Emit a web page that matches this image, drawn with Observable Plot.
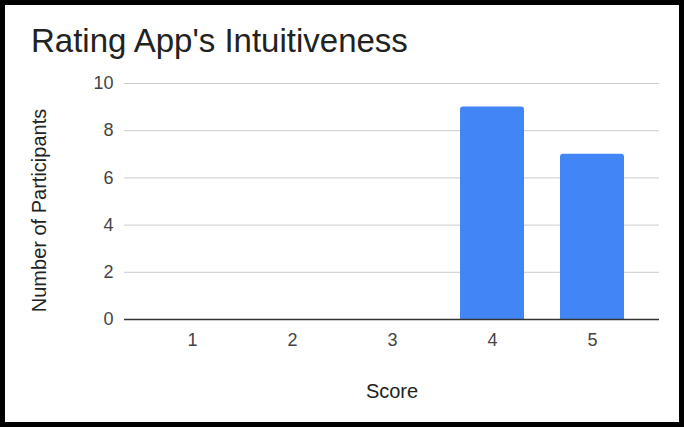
<!DOCTYPE html>
<html>
<head>
<meta charset="utf-8">
<script src="https://cdn.jsdelivr.net/npm/d3@7"></script>
<script src="https://cdn.jsdelivr.net/npm/@observablehq/plot@0.6"></script>
<style>
  html, body { margin: 0; padding: 0; background: #fff; }
  #chart {
    position: relative;
    width: 684px;
    height: 427px;
    box-sizing: border-box;
    border: 5px solid #000;
    background: #fff;
    overflow: hidden;
  }
  #chart svg { position: absolute; left: 0; top: 0; }
  #title {
    position: absolute;
    left: 26px;
    top: 19px;
    margin: 0;
    font-family: "Liberation Sans", Arial, sans-serif;
    font-size: 33px;
    font-weight: normal;
    line-height: 1;
    color: #222;
    white-space: nowrap;
    z-index: 1;
  }
</style>
</head>
<body>
<div id="chart">
  <h2 id="title">Rating App's Intuitiveness</h2>
</div>
<script>
// Survey results: how many participants gave each score
const scores = ["1", "2", "3", "4", "5"];
const participants = [0, 0, 0, 9, 7];
const yTicks = [0, 2, 4, 6, 8, 10];

const data = scores.map((s, i) => ({score: s, count: participants[i]}));

const font = "'Liberation Sans', Arial, sans-serif";

const chart = Plot.plot({
  width: 674,
  height: 417,
  marginLeft: 119,
  marginRight: 20,
  marginTop: 78,
  marginBottom: 103,
  style: {fontFamily: font, fontSize: "18px", color: "#444", background: "transparent"},
  x: {domain: scores, paddingInner: 0.36, paddingOuter: 0.18, insetLeft: 18, insetRight: 17},
  y: {domain: [0, 10]},
  marks: [
    Plot.gridY(yTicks, {stroke: "#ccc", strokeOpacity: 1, strokeWidth: 1}),
    Plot.barY(data, {x: "score", y: "count", fill: "#4285F4", ry1: 3, rx1y1: 3, rx2y1: 3}),
    Plot.ruleY([0], {stroke: "#333", strokeWidth: 1.5}),
    Plot.axisY(yTicks, {
      tickSize: 0,
      tickPadding: 11,
      fontSize: 18,
      fill: "#444",
      label: "Number of Participants",
      labelAnchor: "center",
      labelOffset: 93,
      labelArrow: "none"
    }),
    Plot.axisX({
      tickSize: 0,
      tickPadding: 14,
      fontSize: 18,
      fill: "#444",
      label: "Score",
      labelAnchor: "center",
      labelOffset: 78,
      labelArrow: "none"
    })
  ]
});

// axis titles a touch larger and darker than the tick labels
chart.querySelectorAll("g[aria-label='y-axis label'] text, g[aria-label='x-axis label'] text").forEach(t => {
  t.setAttribute("font-size", "20");
  t.setAttribute("fill", "#222");
});

// the vertical title sits a little below the middle of the plot area
const yLabel = chart.querySelector("g[aria-label='y-axis label']");
if (yLabel) {
  const tr = yLabel.getAttribute("transform") || "";
  yLabel.setAttribute("transform", ("translate(0,9) " + tr).trim());
}

document.getElementById("chart").appendChild(chart);
</script>
</body>
</html>
